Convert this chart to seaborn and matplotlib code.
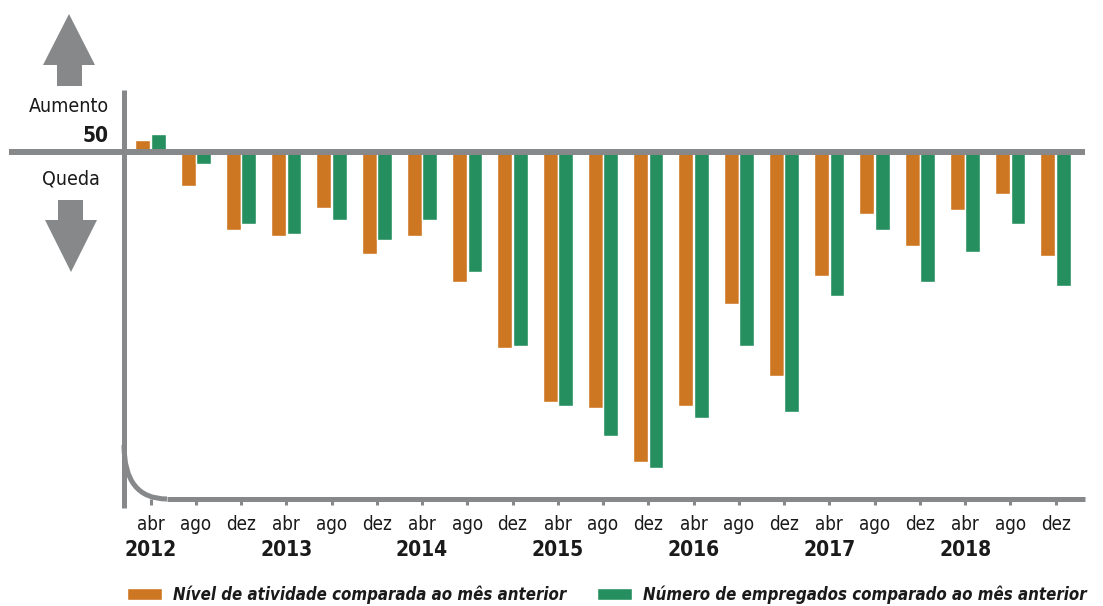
import pandas as pd
import matplotlib
matplotlib.use("Agg")
import matplotlib.pyplot as plt
import matplotlib.transforms as mtransforms
import seaborn as sns
from matplotlib import font_manager
from matplotlib.patches import Patch, Polygon, PathPatch
from matplotlib.path import Path

# dados (índice de difusão, 50 = estabilidade)
anos = ["2012", "2013", "2014", "2015", "2016", "2017", "2018"]
meses = ["abr", "ago", "dez"]
periodos = [f"{m} {a}" for a in anos for m in meses]

atividade = [50.6, 48.3, 46.1, 45.8, 47.2, 44.9, 45.8, 43.5, 40.2, 37.5, 37.2,
             34.5, 37.3, 42.4, 38.8, 43.8, 46.9, 45.3, 47.1, 47.9, 44.8]
empregados = [50.9, 49.4, 46.4, 45.9, 46.6, 45.6, 46.6, 44.0, 40.3, 37.3, 35.8,
              34.2, 36.7, 40.3, 37.0, 42.8, 46.1, 43.5, 45.0, 46.4, 43.3]

serie1 = "Nível de atividade comparada ao mês anterior"
serie2 = "Número de empregados comparado ao mês anterior"

laranja = "#CE7722"
verde = "#268F60"
cinza = "#87888A"
texto = "#1a1a1a"

df = pd.DataFrame({
    "Período": periodos * 2,
    "Série": [serie1] * len(periodos) + [serie2] * len(periodos),
    "Índice": atividade + empregados,
})
df["Desvio"] = df["Índice"] - 50

sns.set_theme(style="white")

# fonte condensada se houver
nomes = {f.name for f in font_manager.fontManager.ttflist}
if "Liberation Sans Narrow" in nomes:
    plt.rcParams["font.family"] = ["Liberation Sans Narrow", "DejaVu Sans"]
elif any(f.name == "DejaVu Sans" and f.stretch == "condensed" for f in font_manager.fontManager.ttflist):
    plt.rcParams["font.family"] = ["DejaVu Sans"]
    plt.rcParams["font.stretch"] = "condensed"
else:
    plt.rcParams["font.family"] = ["Roboto", "DejaVu Sans"]

W, H = 1103, 606
fig = plt.figure(figsize=(W / 100, H / 100), dpi=100)


def fx(x):
    return x / W


def fy(y):
    return 1 - y / H


ax = fig.add_axes([fx(124), fy(499), fx(1085) - fx(124), fy(90) - fy(499)])

sns.barplot(data=df, x="Período", y="Desvio", hue="Série", order=periodos,
            hue_order=[serie1, serie2], palette={serie1: laranja, serie2: verde},
            width=0.68, gap=0.03, saturation=1, legend=False, ax=ax, zorder=2)

ax.set_xlim(-0.586, 20.65)
ax.set_ylim(-17.35, 3.1)
ax.set_yticks([])
ax.set_xlabel("")
ax.set_ylabel("")
for s in ax.spines.values():
    s.set_visible(False)

ax.set_xticks(range(len(periodos)))
ax.set_xticklabels(meses * len(anos))
ax.tick_params(axis="x", bottom=True, length=4.5, width=2.2, color=cinza,
               pad=7, labelsize=13.5, labelcolor=texto)

blend_x = mtransforms.blended_transform_factory(ax.transData, ax.transAxes)
for i, ano in enumerate(anos):
    ax.text(i * 3, (499 - 550) / 409, ano, transform=blend_x, ha="center",
            va="center", fontsize=15, fontweight="bold", color=texto)

# linha de referência 50
blend_y = mtransforms.blended_transform_factory(ax.transAxes, ax.transData)
ax.plot([(9 - 124) / 961, 1], [0, 0], transform=blend_y, color=cinza, lw=4.3,
        clip_on=False, zorder=3, solid_capstyle="butt")

# eixos com canto arredondado
ax.plot([0, 0], [(499 - 508) / 409, 1], transform=ax.transAxes, color=cinza,
        lw=3.6, clip_on=False, zorder=3, solid_capstyle="butt")
ax.plot([0.0447, 1], [0, 0], transform=ax.transAxes, color=cinza, lw=3.6,
        clip_on=False, zorder=3, solid_capstyle="butt")
curva = Path([(0, 0.132), (0, 0), (0.0447, 0)],
             [Path.MOVETO, Path.CURVE3, Path.CURVE3])
ax.add_patch(PathPatch(curva, transform=ax.transAxes, fill=False,
                       edgecolor=cinza, lw=3.6, clip_on=False, zorder=3))

# setas e rótulos à esquerda
seta_cima = [(69, 14), (95, 65), (82, 65), (82, 86), (57, 86), (57, 65), (43, 65)]
seta_baixo = [(58, 200), (83, 200), (83, 220), (97, 220), (71, 272), (45, 220), (58, 220)]
for pts in (seta_cima, seta_baixo):
    fig.add_artist(Polygon([(fx(x), fy(y)) for x, y in pts], closed=True,
                           transform=fig.transFigure, facecolor=cinza,
                           edgecolor="none"))

fig.text(fx(69), fy(106), "Aumento", ha="center", va="center", fontsize=14, color=texto)
fig.text(fx(109), fy(136), "50", ha="right", va="center", fontsize=15,
         fontweight="bold", color=texto)
fig.text(fx(71), fy(179), "Queda", ha="center", va="center", fontsize=14, color=texto)

handles = [Patch(facecolor=laranja, label=serie1), Patch(facecolor=verde, label=serie2)]
fig.legend(handles=handles, loc="center left", bbox_to_anchor=(fx(127), fy(595)),
           ncol=2, frameon=False, prop=dict(weight="bold", style="italic", size=12.1),
           labelcolor=texto, handlelength=2.1, handleheight=0.7,
           handletextpad=0.65, columnspacing=1.8, borderpad=0, borderaxespad=0)

fig.savefig("out.png", dpi=100)
